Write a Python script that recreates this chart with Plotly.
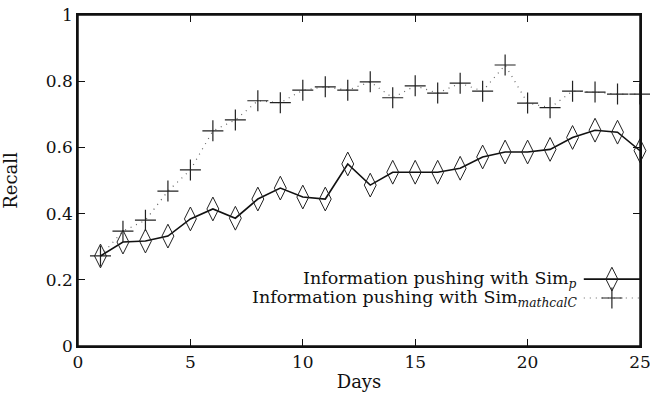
import plotly.graph_objects as go

days = list(range(1, 26))
sim_p = [0.272, 0.314, 0.317, 0.332, 0.384, 0.414, 0.386, 0.444, 0.477, 0.450,
         0.444, 0.550, 0.486, 0.525, 0.525, 0.525, 0.537, 0.571, 0.586, 0.586,
         0.594, 0.630, 0.652, 0.646, 0.590]
sim_c = [0.272, 0.347, 0.380, 0.468, 0.532, 0.650, 0.683, 0.741, 0.735, 0.773,
         0.783, 0.773, 0.798, 0.750, 0.786, 0.764, 0.794, 0.770, 0.849, 0.734,
         0.720, 0.770, 0.767, 0.761, 0.761]
x_ticks = [0, 5, 10, 15, 20, 25]
x_ticklabels = ["0", "5", "10", "15", "20", "25"]
y_ticks = [0, 0.2, 0.4, 0.6, 0.8, 1]
y_ticklabels = ["0", "0.2", "0.4", "0.6", "0.8", "1"]
legend_names = ["Information pushing with Sim<sub><i>p</i></sub>",
                "Information pushing with Sim<sub><i>mathcalC</i></sub>"]

FONT = "DejaVu Serif"
INK = "#111111"
style_p = dict(line=dict(color=INK, width=1.6),
               marker=dict(symbol="diamond-tall-open", size=17, color="#222222",
                           line=dict(color="#222222", width=1)))
style_c = dict(line=dict(color="#666666", width=1.2, dash="1px,5px"),
               marker=dict(symbol="cross-thin-open", size=15, color="#222222",
                           line=dict(color="#222222", width=1.2)))

fig = go.Figure()
fig.add_trace(go.Scatter(x=days, y=sim_c, mode="lines+markers", showlegend=False,
                         cliponaxis=False, **style_c))
fig.add_trace(go.Scatter(x=days, y=sim_p, mode="lines+markers", showlegend=False,
                         cliponaxis=False, **style_p))

# custom legend: key to the right of right-aligned text (in data coordinates)
leg_y = [0.202, 0.145]
key_x = [22.5, 25.0]
for name, yy, st in zip(legend_names, leg_y, [style_p, style_c]):
    fig.add_trace(go.Scatter(x=key_x, y=[yy, yy], mode="lines", line=st["line"],
                             showlegend=False, hoverinfo="skip", cliponaxis=False))
    fig.add_trace(go.Scatter(x=[sum(key_x) / 2], y=[yy], mode="markers", marker=st["marker"],
                             showlegend=False, hoverinfo="skip", cliponaxis=False))
    fig.add_annotation(x=22.3, y=yy, xref="x", yref="y", text=name, showarrow=False,
                       xanchor="right", yanchor="middle",
                       font=dict(family=FONT, size=17.5, color=INK))

# plot frame
fig.add_shape(type="rect", xref="paper", yref="paper", x0=0, x1=1, y0=0, y1=1,
              line=dict(color=INK, width=1.5), layer="above")

axis_common = dict(showline=True, linecolor=INK, linewidth=1.5, mirror="ticks",
                   ticks="inside", ticklen=7, tickwidth=1, tickcolor=INK,
                   showgrid=False, zeroline=False, automargin=False,
                   ticklabeloverflow="allow",
                   tickfont=dict(family=FONT, size=17, color=INK))
fig.update_layout(
    width=650, height=397,
    margin=dict(l=78, r=10, t=15, b=51),
    paper_bgcolor="white", plot_bgcolor="white",
    xaxis=dict(range=[0, 25], tickvals=x_ticks, ticktext=x_ticklabels,
               title=dict(text="Days", standoff=4,
                          font=dict(family=FONT, size=18, color=INK)), **axis_common),
    yaxis=dict(range=[0, 1], tickvals=y_ticks, ticktext=y_ticklabels,
               title=dict(text="Recall", standoff=24,
                          font=dict(family=FONT, size=18, color=INK)), **axis_common),
    showlegend=False,
)

fig.write_html("out.html", config={"displayModeBar": False},
               post_script="document.body.style.margin='0';document.body.style.overflow='hidden';")
